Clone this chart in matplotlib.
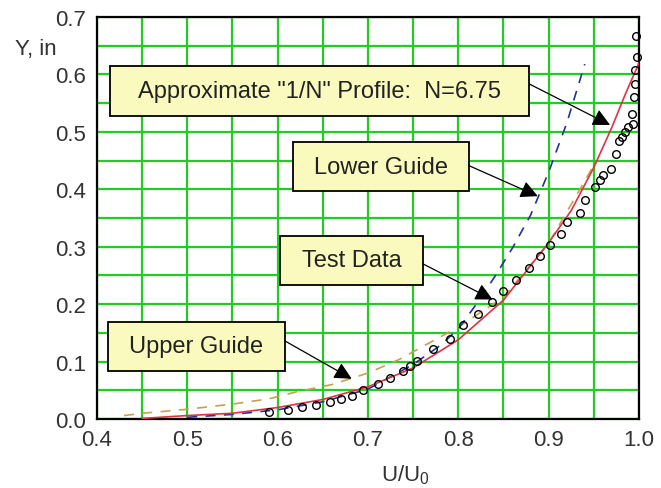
import matplotlib
matplotlib.use("Agg")
import matplotlib.pyplot as plt
from matplotlib.patches import Rectangle
import numpy as np

plt.rcParams['font.family'] = ['Liberation Sans', 'DejaVu Sans']

# measured velocity profile (U/Uo, Y in inches)
test_u = [0.590, 0.612, 0.627, 0.642, 0.658, 0.670, 0.682, 0.695, 0.711, 0.724,
          0.739, 0.747, 0.754, 0.772, 0.791, 0.805, 0.822, 0.837, 0.849, 0.864,
          0.878, 0.890, 0.901, 0.914, 0.920, 0.935, 0.940, 0.951, 0.957, 0.960,
          0.969, 0.975, 0.978, 0.981, 0.985, 0.988, 0.993, 0.992, 0.994, 0.996,
          0.996, 0.998, 0.997]
test_y = [0.012, 0.016, 0.021, 0.025, 0.030, 0.034, 0.040, 0.051, 0.061, 0.072,
          0.083, 0.092, 0.101, 0.122, 0.139, 0.163, 0.183, 0.204, 0.223, 0.242,
          0.263, 0.284, 0.303, 0.322, 0.343, 0.358, 0.381, 0.404, 0.416, 0.425,
          0.435, 0.461, 0.484, 0.491, 0.500, 0.508, 0.514, 0.531, 0.561, 0.583,
          0.608, 0.630, 0.667]

# 1/N power-law profile, N = 6.75
prof_u = [0.45, 0.50, 0.55, 0.60, 0.65, 0.70, 0.75, 0.80, 0.85, 0.90, 0.925, 0.95, 0.97, 0.985, 1.00]
prof_y = [0.001, 0.006, 0.010, 0.020, 0.034, 0.056, 0.089, 0.138, 0.207, 0.307, 0.363, 0.438, 0.508, 0.566, 0.620]

# guide curves
lower_u = [0.50, 0.55, 0.60, 0.65, 0.70, 0.75, 0.78, 0.80, 0.82, 0.84, 0.86, 0.88, 0.90, 0.92, 0.94]
lower_y = [0.003, 0.008, 0.016, 0.030, 0.052, 0.095, 0.128, 0.157, 0.200, 0.247, 0.298, 0.355, 0.430, 0.515, 0.618]

upper_u = [0.43, 0.45, 0.50, 0.55, 0.59, 0.62, 0.66, 0.70, 0.735, 0.765, 0.80, 0.85, 0.90, 0.95]
upper_y = [0.006, 0.010, 0.017, 0.026, 0.035, 0.047, 0.060, 0.080, 0.104, 0.130, 0.160, 0.212, 0.306, 0.442]

# callout boxes: text, (x0, x1, y0, y1), arrow tail, arrow tip
callouts = [
    ('Approximate "1/N" Profile:  N=6.75', (0.414, 0.878, 0.528, 0.615), (0.879, 0.583), (0.968, 0.512)),
    ('Lower Guide', (0.617, 0.812, 0.397, 0.482), (0.812, 0.441), (0.888, 0.388)),
    ('Test Data', (0.603, 0.761, 0.233, 0.319), (0.761, 0.270), (0.838, 0.208)),
    ('Upper Guide', (0.412, 0.608, 0.084, 0.169), (0.608, 0.136), (0.682, 0.070)),
]

fig = plt.figure(figsize=(6.61, 4.89), dpi=100)
ax = fig.add_axes([0.1467, 0.1411, 0.82, 0.8221])

ax.set_xlim(0.4, 1.0)
ax.set_ylim(0.0, 0.7)
ax.set_xticks(np.arange(0.4, 1.01, 0.1))
ax.set_yticks(np.arange(0.0, 0.71, 0.1))
ax.set_xticklabels(['0.4', '0.5', '0.6', '0.7', '0.8', '0.9', '1.0'])
ax.set_yticklabels(['0.0', '0.1', '0.2', '0.3', '0.4', '0.5', '0.6', '0.7'])
ax.set_xticks(np.arange(0.45, 1.0, 0.1), minor=True)
ax.set_yticks(np.arange(0.05, 0.7, 0.1), minor=True)
ax.grid(True, which='both', color='#22cc22', linewidth=1.6)
ax.set_axisbelow(True)
ax.tick_params(which='both', length=0, labelsize=16, labelcolor='#333333')
ax.tick_params(axis='y', pad=8)
ax.tick_params(axis='x', pad=7)
for sp in ax.spines.values():
    sp.set_linewidth(1.6)
    sp.set_color('black')

ax.plot(upper_u, upper_y, color='#c8a050', linewidth=1.2, dashes=(6, 5), zorder=3)
ax.plot(lower_u, lower_y, color='#223399', linewidth=1.2, dashes=(6, 5), zorder=3)
ax.plot(prof_u, prof_y, color='#dd3344', linewidth=1.2, zorder=4)
ax.plot(test_u, test_y, linestyle='none', marker='o', markersize=5.5,
        markerfacecolor='none', markeredgecolor='black', markeredgewidth=1.0,
        zorder=5, clip_on=False)

for label, (x0, x1, y0, y1), tail, tip in callouts:
    ax.add_patch(Rectangle((x0, y0), x1 - x0, y1 - y0, facecolor='#fafabe',
                           edgecolor='black', linewidth=1.3, zorder=6))
    ax.text((x0 + x1) / 2, (y0 + y1) / 2, label, ha='center', va='center',
            fontsize=17, color='#222222', zorder=7)
    ax.annotate('', xy=tip, xytext=tail,
                arrowprops=dict(arrowstyle='-|>,head_length=0.7,head_width=0.35',
                                color='black', linewidth=0.9, mutation_scale=15,
                                shrinkA=0, shrinkB=0),
                zorder=7)

fig.text(36 / 661, 1 - 50 / 489, 'Y, in', ha='center', va='center', fontsize=16, color='#333333')
fig.text(405 / 661, 1 - 475 / 489, r'U/U$_\mathregular{0}$', ha='center', va='center',
         fontsize=16, color='#333333')

fig.savefig('out.png', dpi=100)
